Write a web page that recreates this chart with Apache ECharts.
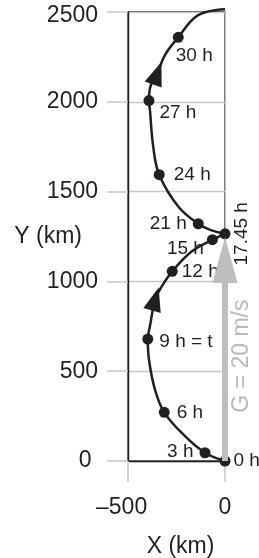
<!DOCTYPE html>
<html>
<head>
<meta charset="UTF-8">
<script src="https://cdn.jsdelivr.net/npm/echarts@6/dist/echarts.min.js"></script>
<style>
    html, body { margin: 0; padding: 0; background: #fff; }
    #chart { width: 259px; height: 558px; }
</style>
</head>
<body>
<div id="chart"></div>
<script>
    // axis ticks
    var xTicks = [-500, 0];
    var yTicks = [0, 500, 1000, 1500, 2000, 2500];

    // labelled positions along the path (km)
    var hourNames = ['0 h', '3 h', '6 h', '9 h = t', '12 h', '15 h', '17.45 h', '21 h', '24 h', '27 h', '30 h'];
    var hourX = [0, -103, -313, -398, -272, -65, 0, -138, -339, -392, -241];
    var hourY = [0, 46, 271, 679, 1056, 1232, 1265, 1321, 1594, 2007, 2359];

    // path: first arc up to the cusp, then the second arc
    var pathAX = [0, -103, -206, -313, -361, -392, -398, -387, -359, -326, -272, -172, -65, 0];
    var pathAY = [0, 46, 138, 271, 398, 565, 679, 750, 902, 972, 1056, 1167, 1232, 1265];
    var pathBX = [0, -69, -138, -241, -339, -370, -387, -392, -387, -349, -309, -241, -138, 0];
    var pathBY = [1265, 1284, 1321, 1417, 1594, 1751, 1955, 2007, 2076, 2159, 2261, 2359, 2483, 2515];

    // direction arrows on the path
    var arrowX = [-359, -349];
    var arrowY = [902, 2159];
    var arrowRot = [-16, -20];

    // drift vector G
    var driftX = [0, 0];
    var driftY = [0, 1050];
    var driftTip = [0, 1247];
    var driftText = 'G = 20 m/s';
    var driftTextAt = [0, 584];

    var ink = '#231f20';
    var gray = '#bcbec0';
    var font = 'Liberation Sans, Arial, Helvetica, sans-serif';

    function pairs(xs, ys) {
        var out = [];
        for (var i = 0; i < xs.length; i++) out.push([xs[i], ys[i]]);
        return out;
    }

    // where each hour label sits next to its dot
    var labelPlace = [
        {position: 'right', distance: 3},
        {position: 'left', distance: 6, offset: [0, -1]},
        {position: 'right', distance: 7},
        {position: 'right', distance: 6, offset: [0, 3]},
        {position: 'right', distance: 4},
        {position: 'left', distance: 3, offset: [0, 9]},
        {position: 'right', distance: 13, rotate: 90, align: 'center', verticalAlign: 'middle', offset: [0, -2]},
        {position: 'left', distance: 6},
        {position: 'right', distance: 9},
        {position: 'right', distance: 5, offset: [0, 12]},
        {position: 'right', distance: 0, offset: [-8, 18]}
    ];

    var dots = [];
    for (var i = 0; i < hourNames.length; i++) {
        dots.push({
            value: [hourX[i], hourY[i]],
            name: hourNames[i],
            label: labelPlace[i]
        });
    }

    var arrows = [];
    for (var j = 0; j < arrowX.length; j++) {
        arrows.push({value: [arrowX[j], arrowY[j]], symbolRotate: arrowRot[j]});
    }

    var axisCommon = {
        type: 'value',
        nameMoveOverlap: false,
        axisLine: {show: true, onZero: false, lineStyle: {color: ink, width: 1.4}},
        axisTick: {show: true, length: 21, lineStyle: {color: '#c7c8ca', width: 1.5}},
        splitLine: {show: true, lineStyle: {color: '#c7c8ca', width: 1.3}}
    };

    var chart = echarts.init(document.getElementById('chart'));
    var option = {
        animation: false,
        grid: {
            left: 128, right: 34, top: 12, bottom: 97, show: true,
            borderColor: ink, borderWidth: 1.3,
            containLabel: false, outerBoundsMode: 'none'
        },
        xAxis: echarts.util.merge({
            min: xTicks[0], max: xTicks[xTicks.length - 1], interval: 500,
            name: 'X (km)', nameLocation: 'middle', nameGap: 74,
            nameTextStyle: {color: ink, fontSize: 23, fontFamily: font, padding: [0, 0, 0, 8]},
            axisLabel: {
                margin: 35, color: ink, fontSize: 23, fontFamily: font,
                formatter: function (v) { return v < 0 ? '\u2013' + (-v) + '  ' : String(v); }
            }
        }, axisCommon, false),
        yAxis: echarts.util.merge({
            min: yTicks[0], max: yTicks[yTicks.length - 1], interval: 500,
            name: 'Y (km)', nameLocation: 'middle', nameGap: 46, nameRotate: 0,
            nameTextStyle: {color: ink, fontSize: 23, fontFamily: font},
            axisLabel: {
                margin: 30, color: ink, fontSize: 23, fontFamily: font,
                formatter: function (v) {
                    if (v === 0) return '0 ';
                    if (v === yTicks[yTicks.length - 1]) return '{top|' + v + '}';
                    return String(v);
                },
                rich: {top: {color: ink, fontSize: 23, fontFamily: font, padding: [8, 0, 0, 0]}}
            }
        }, axisCommon, false),
        series: [
            {
                type: 'line', data: pairs(pathAX, pathAY), symbol: 'none', smooth: 0.4,
                clip: false, silent: true, z: 3,
                lineStyle: {color: ink, width: 2.5}
            },
            {
                type: 'line', data: pairs(pathBX, pathBY), symbol: 'none', smooth: 0.4,
                clip: false, silent: true, z: 3,
                lineStyle: {color: ink, width: 2.5}
            },
            {
                type: 'line', data: pairs(driftX, driftY), symbol: 'none',
                clip: false, silent: true, z: 4,
                lineStyle: {color: gray, width: 6}
            },
            {
                type: 'scatter', data: [driftTip], symbol: 'triangle', symbolSize: [25, 46],
                symbolOffset: [0, '50%'], clip: false, silent: true, z: 4,
                itemStyle: {color: gray, opacity: 1}
            },
            {
                type: 'scatter', data: [driftTextAt], symbolSize: 0, clip: false, silent: true, z: 4,
                label: {
                    show: true, formatter: driftText, position: 'right', distance: 17,
                    rotate: 90, align: 'center', verticalAlign: 'middle',
                    color: '#a7a9ac', fontSize: 23, fontFamily: font
                }
            },
            {
                type: 'scatter', data: arrows, symbol: 'triangle', symbolSize: [18, 24],
                clip: false, silent: true, z: 3,
                itemStyle: {color: ink, opacity: 1}
            },
            {
                type: 'scatter', data: dots, symbol: 'circle', symbolSize: 11,
                clip: false, silent: true, z: 3,
                itemStyle: {color: ink, opacity: 1},
                label: {
                    show: true, formatter: '{b}', color: ink, fontSize: 19, fontFamily: font
                }
            }
        ]
    };
    chart.setOption(option);
</script>
</body>
</html>
